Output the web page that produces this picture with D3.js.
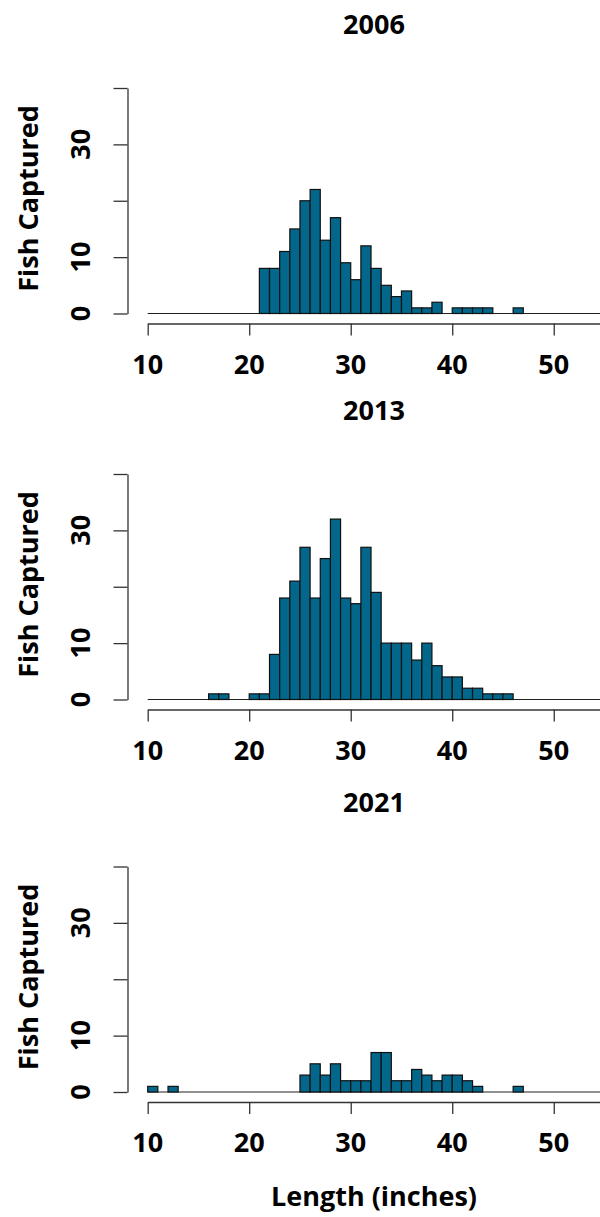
<!DOCTYPE html>
<html>
<head>
<meta charset="utf-8">
<script src="https://cdn.jsdelivr.net/npm/d3@7"></script>
<style>
  body { margin: 0; background: #fff; }
  svg text { font-family: "Open Sans", sans-serif; font-weight: 700; fill: #000; }
</style>
</head>
<body>
<div id="chart"></div>
<script>
// histogram bins: 1-inch wide, starting at 10 inches
const binStart = 10;
const binWidth = 1;

const years = ['2006', '2013', '2021'];

const counts2006 = [
  0, 0, 0, 0, 0, 0, 0, 0, 0, 0,
  0, 8, 8, 11, 15, 20, 22, 13, 17, 9,
  6, 12, 8, 5, 3, 4, 1, 1, 2, 0,
  1, 1, 1, 1, 0, 0, 1, 0, 0, 0,
  0, 0, 0, 0, 0, 0
];
const counts2013 = [
  0, 0, 0, 0, 0, 0, 1, 1, 0, 0,
  1, 1, 8, 18, 21, 27, 18, 25, 32, 18,
  17, 27, 19, 10, 10, 10, 7, 10, 6, 4,
  4, 2, 2, 1, 1, 1, 0, 0, 0, 0,
  0, 0, 0, 0, 0, 0
];
const counts2021 = [
  1, 0, 1, 0, 0, 0, 0, 0, 0, 0,
  0, 0, 0, 0, 0, 3, 5, 3, 5, 2,
  2, 2, 7, 7, 2, 2, 4, 3, 2, 3,
  3, 2, 1, 0, 0, 0, 1, 0, 0, 0,
  0, 0, 0, 0, 0, 0
];

const xTicks = [10, 20, 30, 40, 50];
const yTicks = [0, 10, 20, 30, 40];
const yTickLabels = ['0', '10', '', '30', ''];

const yLabel = 'Fish Captured';
const xLabel = 'Length (inches)';

const allCounts = [counts2006, counts2013, counts2021];

const width = 600, height = 1217;
const barColor = '#02678a';
const fontSize = '27px';

// baseline (zero count) of each panel, in px
const panelBase = [313.5, 699.5, 1092];

const svg = d3.select('#chart').append('svg')
  .attr('width', width)
  .attr('height', height);

const x = d3.scaleLinear()
  .domain([10, 55])
  .range([147.7, 604.5]);

allCounts.forEach((counts, i) => {
  const y0 = panelBase[i];
  const g = svg.append('g');

  const y = d3.scaleLinear()
    .domain([0, 40])
    .range([y0, y0 - 225.5]);

  const bins = counts.map((c, k) => ({ x0: binStart + k * binWidth, x1: binStart + (k + 1) * binWidth, n: c }));

  // zero line along the empty bins
  g.append('line')
    .attr('x1', x(binStart))
    .attr('x2', x(binStart + counts.length * binWidth))
    .attr('y1', y(0))
    .attr('y2', y(0))
    .attr('stroke', '#222')
    .attr('stroke-width', 1.2);

  g.selectAll('.bar')
    .data(bins.filter(d => d.n > 0))
    .enter().append('rect')
    .attr('class', 'bar')
    .attr('x', d => x(d.x0))
    .attr('y', d => y(d.n))
    .attr('width', d => x(d.x1) - x(d.x0))
    .attr('height', d => y(0) - y(d.n))
    .attr('fill', barColor)
    .attr('stroke', '#111')
    .attr('stroke-width', 1.2);

  // x axis
  const xAxis = g.append('g')
    .attr('transform', `translate(0,${y0 + 10})`)
    .call(d3.axisBottom(x).tickValues(xTicks).tickSize(12).tickSizeOuter(0).tickFormat(''));
  xAxis.select('.domain').attr('stroke', '#333').attr('stroke-width', 1.3);
  xAxis.selectAll('.tick line').attr('stroke', '#333').attr('stroke-width', 1.3);

  g.selectAll('.xlab')
    .data(xTicks)
    .enter().append('text')
    .attr('x', d => x(d))
    .attr('y', y0 + 60)
    .attr('text-anchor', 'middle')
    .attr('font-size', fontSize)
    .text(d => d);

  // y axis
  const yAxis = g.append('g')
    .attr('transform', 'translate(127.5,0)')
    .call(d3.axisLeft(y).tickValues(yTicks).tickSize(14).tickSizeOuter(0).tickFormat(''));
  yAxis.select('.domain').attr('stroke', '#333').attr('stroke-width', 1.3);
  yAxis.selectAll('.tick line').attr('stroke', '#333').attr('stroke-width', 1.3);

  g.selectAll('.ylab')
    .data(yTicks.map((v, k) => ({ v: v, t: yTickLabels[k] })).filter(d => d.t))
    .enter().append('text')
    .attr('transform', d => `translate(90,${y(d.v)}) rotate(-90)`)
    .attr('text-anchor', 'middle')
    .attr('font-size', fontSize)
    .text(d => d.t);

  g.append('text')
    .attr('transform', `translate(38,${y0 - 115}) rotate(-90)`)
    .attr('text-anchor', 'middle')
    .attr('font-size', fontSize)
    .text(yLabel);

  // panel title
  g.append('text')
    .attr('x', 374)
    .attr('y', y0 - 280)
    .attr('text-anchor', 'middle')
    .attr('font-size', fontSize)
    .text(years[i]);
});

svg.append('text')
  .attr('x', 374)
  .attr('y', 1206)
  .attr('text-anchor', 'middle')
  .attr('font-size', fontSize)
  .text(xLabel);
</script>
</body>
</html>
